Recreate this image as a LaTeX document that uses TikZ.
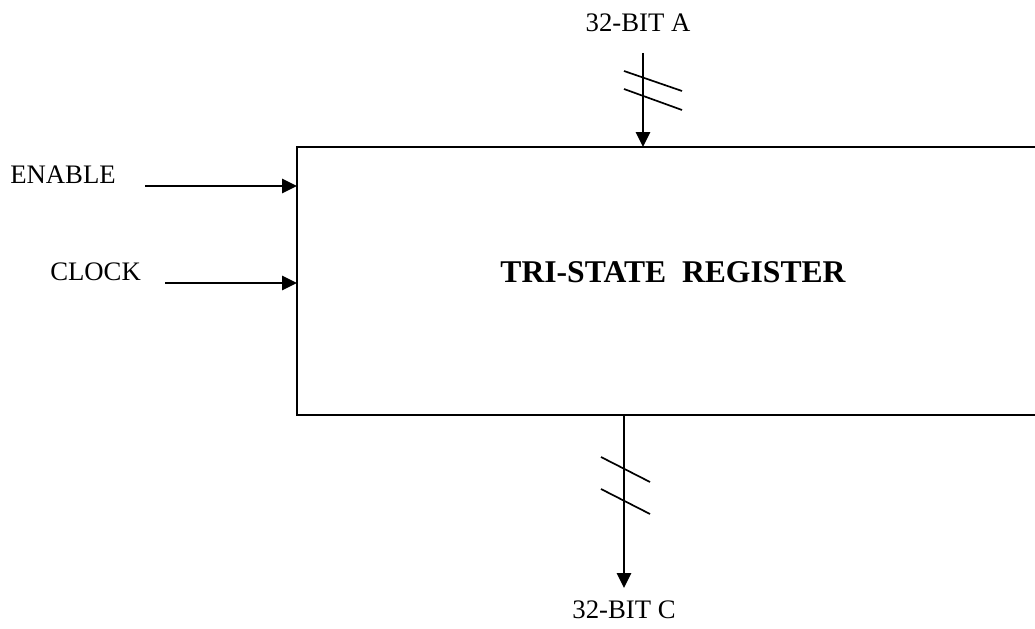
\documentclass[tikz,border=0pt]{standalone}
\usepackage{fontspec}
\setmainfont{Liberation Serif}
\usetikzlibrary{arrows.meta}

\tikzset{
  sig/.style={line width=1.5pt,-{Triangle[length=10.5pt,width=10pt]}},
  bus/.style={line width=1.2pt},
  lbl/.style={font=\fontsize{19}{22}\selectfont,inner sep=0pt}
}

\begin{document}
\begin{tikzpicture}[x=0.025cm,y=-0.025cm]
\useasboundingbox (0,0) rectangle (1035,629);
\clip (0,0) rectangle (1035,629);

% register box
\draw[line width=1.5pt] (297,147) rectangle (1060,415);
\node[font=\fontsize{22.5}{26}\selectfont\bfseries,inner sep=0pt] (title) at (673,272) {TRI-STATE~~REGISTER};

% inputs
\node[lbl,anchor=west] (enable) at (10,175) {ENABLE};
\node[lbl,anchor=west] (clock) at (50,272) {CLOCK};
\coordinate (enfrom) at (145,186);
\coordinate (ento) at (297,186);
\coordinate (clkfrom) at (165,283);
\coordinate (clkto) at (297,283);
\draw[sig] (enfrom) -- (ento);
\draw[sig] (clkfrom) -- (clkto);

% bus A
\node[lbl] (busa) at (638,23) {32-BIT A};
\coordinate (afrom) at (643,53);
\coordinate (ato) at (643,147);
\draw[sig] (afrom) -- (ato);
\draw[bus] (624,71) -- (682,91);
\draw[bus] (624,89) -- (682,110);

% bus C
\coordinate (cfrom) at (624,415);
\coordinate (cto) at (624,588);
\draw[sig] (cfrom) -- (cto);
\draw[bus] (601,457) -- (650,482);
\draw[bus] (601,489) -- (650,514);
\node[lbl] (busc) at (624,610) {32-BIT C};
\end{tikzpicture}
\end{document}
